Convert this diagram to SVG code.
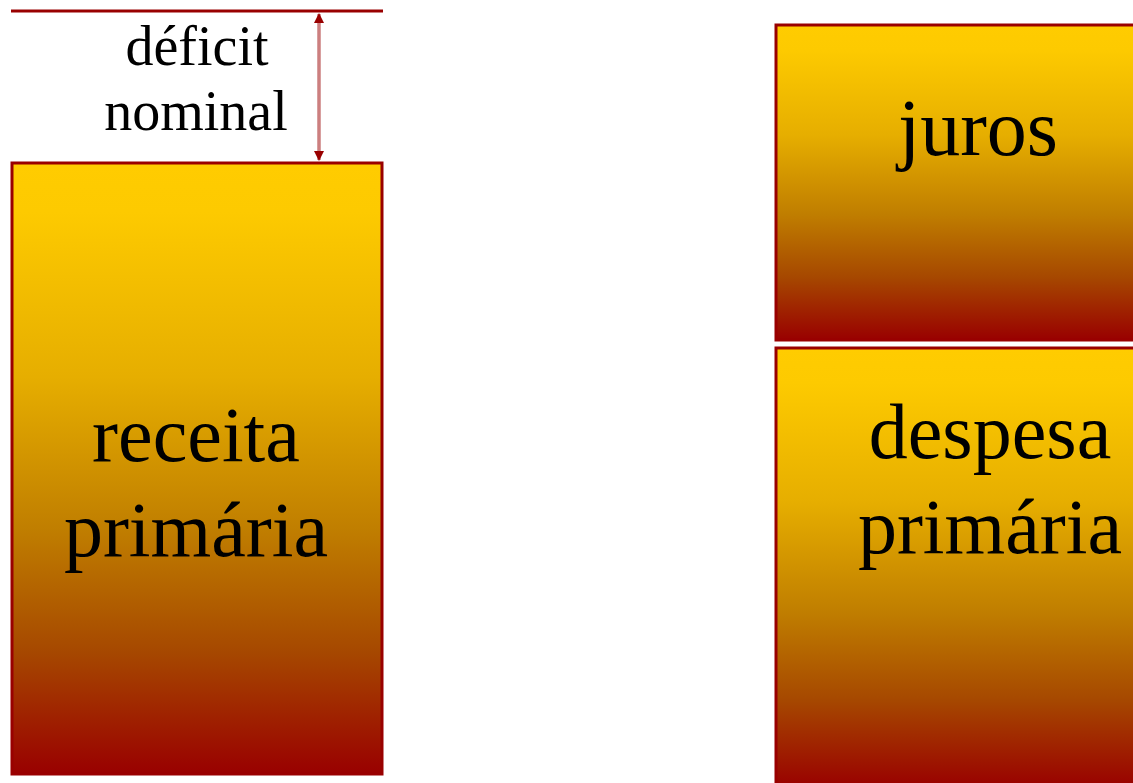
<svg xmlns="http://www.w3.org/2000/svg" width="1133" height="783" viewBox="0 0 1133 783">
<style>
.box{stroke:#990000;stroke-width:3}
.lbl{font-family:"Liberation Serif","Times New Roman",serif;fill:#000;text-anchor:middle}
</style>
<defs>
<linearGradient id="g" x1="0" y1="0" x2="0" y2="1">
<stop offset="0" stop-color="#FFCC00"/>
<stop offset="0.08" stop-color="#FDCA00"/>
<stop offset="0.35" stop-color="#E6AE00"/>
<stop offset="0.6" stop-color="#C07E00"/>
<stop offset="0.8" stop-color="#A64800"/>
<stop offset="1" stop-color="#990000"/>
</linearGradient>
<marker id="ah" viewBox="0 0 10 10" refX="9" refY="5" markerWidth="3" markerHeight="3" orient="auto-start-reverse" markerUnits="strokeWidth">
<path d="M0,0 L10,5 L0,10 z" fill="#990000"/>
</marker>
</defs>
<rect width="1133" height="783" fill="#fff"/>
<g id="connectors">
<line x1="11" y1="11" x2="383" y2="11" stroke="#990000" stroke-width="3"/>
<line x1="319" y1="14" x2="319" y2="160" stroke="#990000" stroke-opacity="0.5" stroke-width="3.5" marker-start="url(#ah)" marker-end="url(#ah)"/>
</g>
<g id="deficit">
<text class="lbl" font-size="56" x="197" y="65">déficit</text>
<text class="lbl" font-size="56" x="196" y="130">nominal</text>
</g>
<g id="receita">
<rect class="box" x="12" y="163" width="370" height="611" fill="url(#g)"/>
<text class="lbl" font-size="78" x="196" y="461">receita</text>
<text class="lbl" font-size="78" x="196" y="556">primária</text>
</g>
<g id="juros">
<rect class="box" x="776" y="25" width="430" height="315" fill="url(#g)"/>
<text class="lbl" font-size="80" x="978" y="155">juros</text>
</g>
<g id="despesa">
<rect class="box" x="776" y="348" width="430" height="440" fill="url(#g)"/>
<text class="lbl" font-size="78" x="990" y="458">despesa</text>
<text class="lbl" font-size="78" x="990" y="553">primária</text>
</g>
</svg>
